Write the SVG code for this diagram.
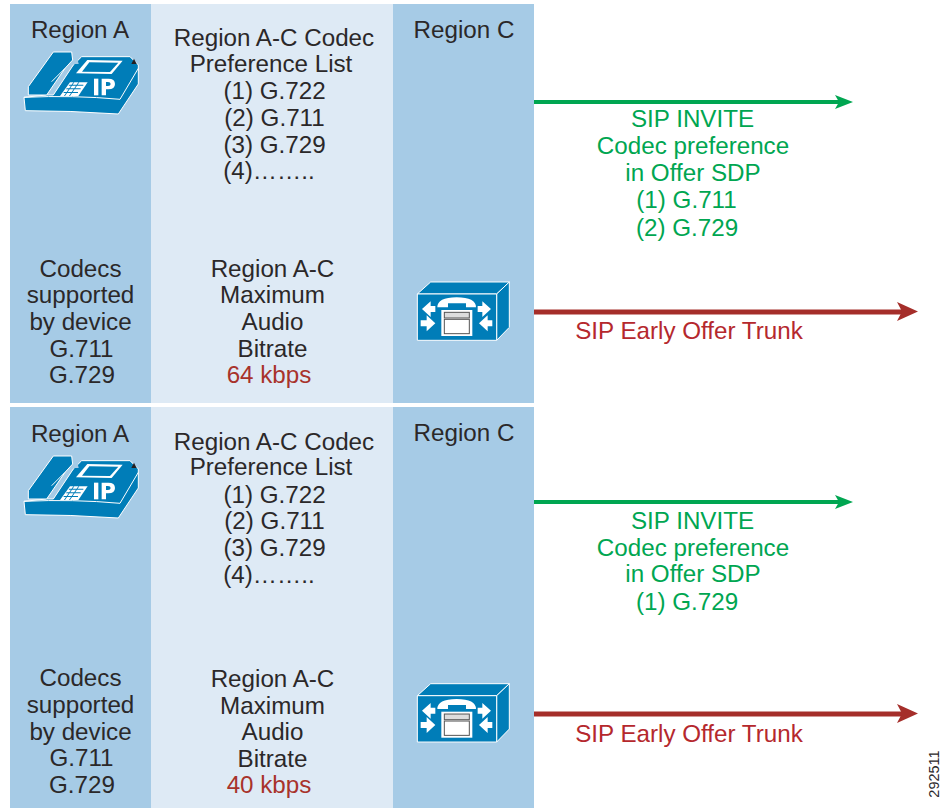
<svg xmlns="http://www.w3.org/2000/svg" width="943" height="808" viewBox="0 0 943 808">
<style>
text{font-family:"Liberation Sans",Arial,sans-serif;font-size:24.200px;fill:#2b2829;text-anchor:middle}
.g{fill:#00a651}
.r{fill:#b5282d}
.k{fill:#a8332b}
.side{fill:#a6cbe6}
.mid{fill:#deeaf5}
.b{fill:#007db8;stroke:#fff;stroke-width:3;stroke-linejoin:round}
.o{fill:none;stroke:#fff;stroke-width:3;stroke-linejoin:round}
.w{fill:#fff}
.gl{stroke:#00a651;stroke-width:4;fill:none}
.rl{stroke:#a52e2a;stroke-width:5;fill:none}
</style>
<defs>
<g id="phone">
<path class="b" d="M42 172 L46 212 Q180 212 325 222 L385 132 L385 75 L360 50 L215 50 L190 75 L130 165 L110 165 Z"/>
<path class="o" d="M42 172 Q190 165 330 178 L385 85"/>
<path fill="#a6cbe6" d="M186 72 L200 48 L206 72 Z"/>
<path fill="#231f20" d="M364 72 L372 56 L380 72 Z"/>
<path class="b" d="M55 165 L55 140 L130 36 L185 36 L188 60 L165 85 L110 165 Z"/>
<path class="o" d="M125 125 L165 85"/>
<path class="w" d="M198 100 L232 60 L338 62 L305 102 Z"/>
<path fill="#007db8" d="M216 95 L238 67 L325 68 L300 96 Z"/>
<path class="w" d="M180 127 L233 127 L205 168 L150 168 Z"/>
<path fill="#007db8" d="M178 134 h42 v3 h-44 Z M170 145 h42 v3 h-44 Z M162 156 h42 v3 h-44 Z M190 127 l3 0 l-28 41 l-3 0 Z M205 127 l3 0 l-28 41 l-3 0 Z"/>
<rect class="w" x="252" y="116" width="13" height="50"/>
<path class="w" fill-rule="evenodd" d="M275 116 h20 q20 0 20 16 q0 16 -20 16 h-7 v18 h-13 Z M288 126 v12 h6 q8 0 8 -6 q0 -6 -8 -6 Z"/>
</g>
<g id="srv">
<path class="b" d="M52 72 L92 36 L328 36 L290 72 Z"/>
<path class="b" d="M290 72 L328 36 L328 172 L290 211 Z"/>
<rect class="b" x="52" y="72" width="238" height="139"/>
<path class="w" d="M112 112 Q112 82 170 82 Q228 82 228 112 L198 112 L198 100 L144 100 L144 112 Z"/>
<rect class="w" x="124" y="120" width="93" height="78"/>
<rect x="133" y="127" width="75" height="17" fill="#ddd" stroke="#555" stroke-width="3"/>
<rect x="133" y="148" width="75" height="43" fill="#fff" stroke="#555" stroke-width="3"/>
<path class="w" d="M66 117 L92 94 L92 108 L106 108 L106 126 L92 126 L92 141 Z"/>
<path class="w" d="M106 160 L80 136 L80 151 L62 151 L62 169 L80 169 L80 184 Z"/>
<path class="w" d="M273 117 L247 94 L247 108 L233 108 L233 126 L247 126 L247 141 Z"/>
<path class="w" d="M237 160 L263 136 L263 151 L277 151 L277 169 L263 169 L263 184 Z"/>
</g>
</defs>
<rect width="943" height="808" fill="#fff"/>

<g id="panel-1">
<rect class="side" x="10" y="4" width="141" height="399"/>
<rect class="mid" x="151" y="4" width="242" height="399"/>
<rect class="side" x="393" y="4" width="141" height="399"/>
</g>
<g id="panel-2">
<rect class="side" x="10" y="407" width="141" height="401"/>
<rect class="mid" x="151" y="407" width="242" height="401"/>
<rect class="side" x="393" y="407" width="141" height="401"/>
</g>

<g id="connectors">
<line class="gl" x1="534" y1="102" x2="840" y2="102"/>
<path fill="#00a651" d="M835 95 L853 102 L835 109 L839 102 Z"/>
<line class="rl" x1="534" y1="312" x2="902" y2="312"/>
<path fill="#a52e2a" d="M897 302 L918 311.500 L897 321 L902 311.500 Z"/>
<line class="gl" x1="534" y1="502" x2="840" y2="502"/>
<path fill="#00a651" d="M835 495 L853 502 L835 509 L839 502 Z"/>
<line class="rl" x1="534" y1="714" x2="902" y2="714"/>
<path fill="#a52e2a" d="M897 704 L918 713.500 L897 723 L902 713.500 Z"/>
</g>

<g id="phone-1"><use href="#phone" transform="translate(10,40) scale(.3333)"/></g>
<g id="phone-2"><use href="#phone" transform="translate(10,444) scale(.3333)"/></g>
<g id="gateway-1"><use href="#srv" transform="translate(400,270) scale(.3333)"/></g>
<g id="gateway-2"><use href="#srv" transform="translate(400,671.700) scale(.3333)"/></g>

<g id="labels-1">
<text x="80" y="38">Region A</text>
<text x="464" y="38">Region C</text>
<text x="274" y="46">Region A-C Codec</text>
<text x="271" y="72">Preference List</text>
<text x="274.500" y="99">(1) G.722</text>
<text x="274.500" y="126">(2) G.711</text>
<text x="274.500" y="152.500">(3) G.729</text>
<text x="269" y="179">(4)……..</text>
<text x="80.500" y="277">Codecs</text>
<text x="80.500" y="303">supported</text>
<text x="80.500" y="330">by device</text>
<text x="81.500" y="357">G.711</text>
<text x="82" y="383">G.729</text>
<text x="272.500" y="277">Region A-C</text>
<text x="272.500" y="303">Maximum</text>
<text x="272.500" y="330">Audio</text>
<text x="272.500" y="357">Bitrate</text>
<text class="k" x="269" y="383">64 kbps</text>
<text class="g" x="692.500" y="127">SIP INVITE</text>
<text class="g" x="693" y="154">Codec preference</text>
<text class="g" x="693" y="181">in Offer SDP</text>
<text class="g" x="686.500" y="208">(1) G.711</text>
<text class="g" x="687" y="236">(2) G.729</text>
<text class="r" x="689" y="339">SIP Early Offer Trunk</text>
</g>
<g id="labels-2">
<text x="80" y="442">Region A</text>
<text x="464" y="441">Region C</text>
<text x="274" y="450">Region A-C Codec</text>
<text x="271" y="475">Preference List</text>
<text x="274.500" y="503">(1) G.722</text>
<text x="274.500" y="529">(2) G.711</text>
<text x="274.500" y="556">(3) G.729</text>
<text x="269" y="583">(4)……..</text>
<text x="80.500" y="686">Codecs</text>
<text x="80.500" y="713">supported</text>
<text x="80.500" y="740">by device</text>
<text x="81.500" y="766">G.711</text>
<text x="82" y="793">G.729</text>
<text x="272.500" y="687">Region A-C</text>
<text x="272.500" y="714">Maximum</text>
<text x="272.500" y="740">Audio</text>
<text x="272.500" y="767">Bitrate</text>
<text class="k" x="269" y="793">40 kbps</text>
<text class="g" x="692.500" y="529">SIP INVITE</text>
<text class="g" x="693" y="556">Codec preference</text>
<text class="g" x="693" y="582">in Offer SDP</text>
<text class="g" x="687" y="610">(1) G.729</text>
<text class="r" x="689" y="742">SIP Early Offer Trunk</text>
</g>
<text x="0" y="0" transform="translate(939,774) rotate(-90)" style="font-size:14.500px">292511</text>
</svg>
